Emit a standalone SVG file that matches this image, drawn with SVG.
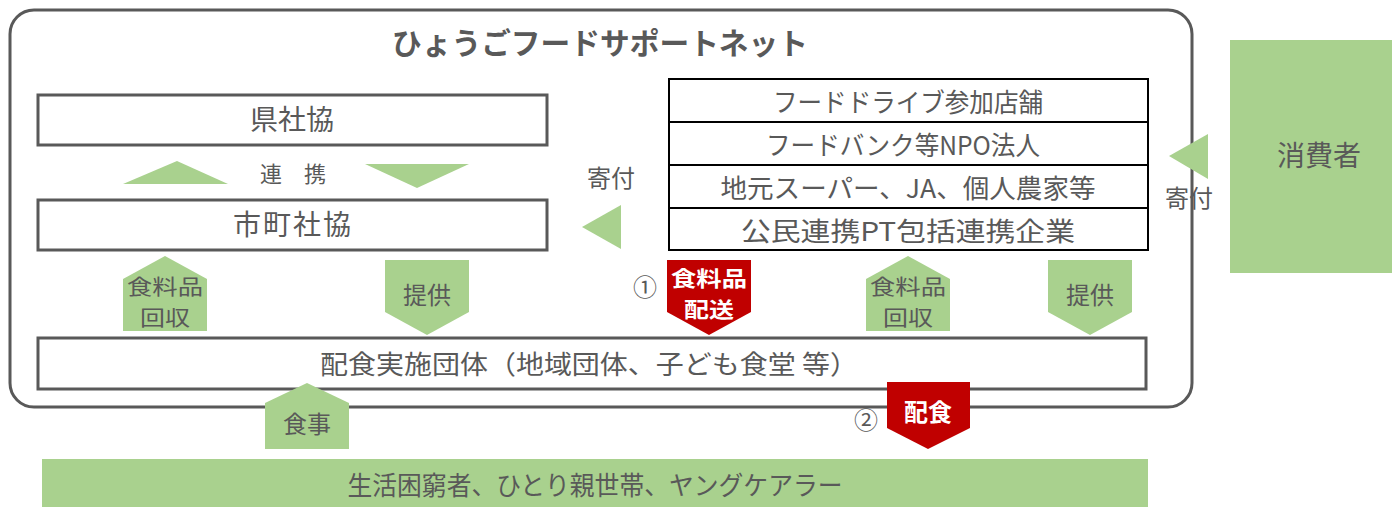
<svg xmlns="http://www.w3.org/2000/svg" width="1392" height="507" viewBox="0 0 1392 507">
<style>
text{font-family:"Noto Sans CJK JP","Noto Sans",sans-serif;fill:#595959;text-anchor:middle;dominant-baseline:central}
.box{fill:#fff;stroke:#595959;stroke-width:3}
.tbl{fill:#fff;stroke:#000;stroke-width:2}
.g{fill:#A9D18E}
.r{fill:#C00000}
.w{fill:#fff;font-weight:bold}
.t26{font-size:26px}
.t28{font-size:28px}
.t24{font-size:24px}
.t21{font-size:21px}
</style>
<rect width="1392" height="507" fill="#fff"/>
<g id="outer">
<rect x="10" y="10" width="1182" height="397" rx="24" fill="none" stroke="#595959" stroke-width="3"/>
<text x="600" y="41" font-size="30" font-weight="bold" textLength="416" lengthAdjust="spacingAndGlyphs">ひょうごフードサポートネット</text>
</g>
<g id="kenshakyo"><rect class="box" x="38" y="95" width="509" height="50"/><text class="t28" x="292" y="118">県社協</text></g>
<g id="shichoshakyo"><rect class="box" x="38" y="200" width="509" height="50"/><text class="t28" x="292" y="223" textLength="118">市町社協</text></g>
<g id="renkei">
<polygon class="g" points="123,184 177,161 228,184"/>
<polygon class="g" points="365,164 469,164 417,188"/>
<text font-size="22" x="293" y="172" textLength="66">連 携</text>
</g>
<g id="donors">
<rect class="tbl" x="669" y="79" width="479" height="171"/>
<line x1="669" y1="122" x2="1148" y2="122" stroke="#000" stroke-width="2"/>
<line x1="669" y1="165" x2="1148" y2="165" stroke="#000" stroke-width="2"/>
<line x1="669" y1="208" x2="1148" y2="208" stroke="#000" stroke-width="2"/>
<text class="t26" x="908" y="100" textLength="270" lengthAdjust="spacingAndGlyphs">フードドライブ参加店舗</text>
<text class="t26" x="903" y="143" textLength="274" lengthAdjust="spacingAndGlyphs">フードバンク等NPO法人</text>
<text class="t26" x="908" y="186" textLength="375" lengthAdjust="spacingAndGlyphs">地元スーパー、JA、個人農家等</text>
<text class="t26" x="908" y="229" textLength="334" lengthAdjust="spacingAndGlyphs">公民連携PT包括連携企業</text>
</g>
<g id="haishoku-dantai"><rect class="box" x="38" y="338" width="1108" height="51"/><text class="t26" x="589" y="362" textLength="538" lengthAdjust="spacingAndGlyphs">配食実施団体（地域団体、子ども食堂 等）</text></g>
<g id="recipients"><rect class="g" x="42" y="459" width="1106" height="48"/><text class="t26" x="595" y="483" textLength="495" lengthAdjust="spacingAndGlyphs">生活困窮者、ひとり親世帯、ヤングケアラー</text></g>
<g id="consumer"><rect class="g" x="1230" y="40" width="162" height="233"/><text class="t28" x="1319" y="154">消費者</text></g>
<g id="connectors">
<polygon class="g" points="582,227 621,205 621,249"/>
<text class="t24" x="611" y="176">寄付</text>
<polygon class="g" points="1169,156 1208,134 1208,179"/>
<text class="t24" x="1189" y="196">寄付</text>
<polygon class="g" points="123,279 165,256 207,279 207,331 123,331"/>
<text class="t21" x="165" y="285" textLength="76" lengthAdjust="spacingAndGlyphs">食料品</text><text class="t21" x="165" y="316" textLength="50" lengthAdjust="spacingAndGlyphs">回収</text>
<polygon class="g" points="385,260 469,260 469,312 427,335 385,312"/>
<text class="t24" x="427" y="293">提供</text>
<polygon class="g" points="866,279 908,256 950,279 950,331 866,331"/>
<text class="t21" x="908" y="285" textLength="76" lengthAdjust="spacingAndGlyphs">食料品</text><text class="t21" x="908" y="316" textLength="50" lengthAdjust="spacingAndGlyphs">回収</text>
<polygon class="g" points="1048,260 1132,260 1132,312 1090,335 1048,312"/>
<text class="t24" x="1090" y="293">提供</text>
<polygon class="r" points="667,260 751,260 751,312 709,335 667,312"/>
<text class="w t21" x="709" y="277" textLength="76" lengthAdjust="spacingAndGlyphs">食料品</text><text class="w t21" x="709" y="308" textLength="50" lengthAdjust="spacingAndGlyphs">配送</text>
<text class="t24" x="645" y="285">①</text>
<polygon class="g" points="265,403 307,383 349,403 349,449 265,449"/>
<text class="t24" x="307" y="422">食事</text>
<polygon class="r" points="887,382 970,382 970,428 928,449 887,428"/>
<text class="w t24" x="928" y="410">配食</text>
<text class="t24" x="866" y="418">②</text>
</g>
</svg>
